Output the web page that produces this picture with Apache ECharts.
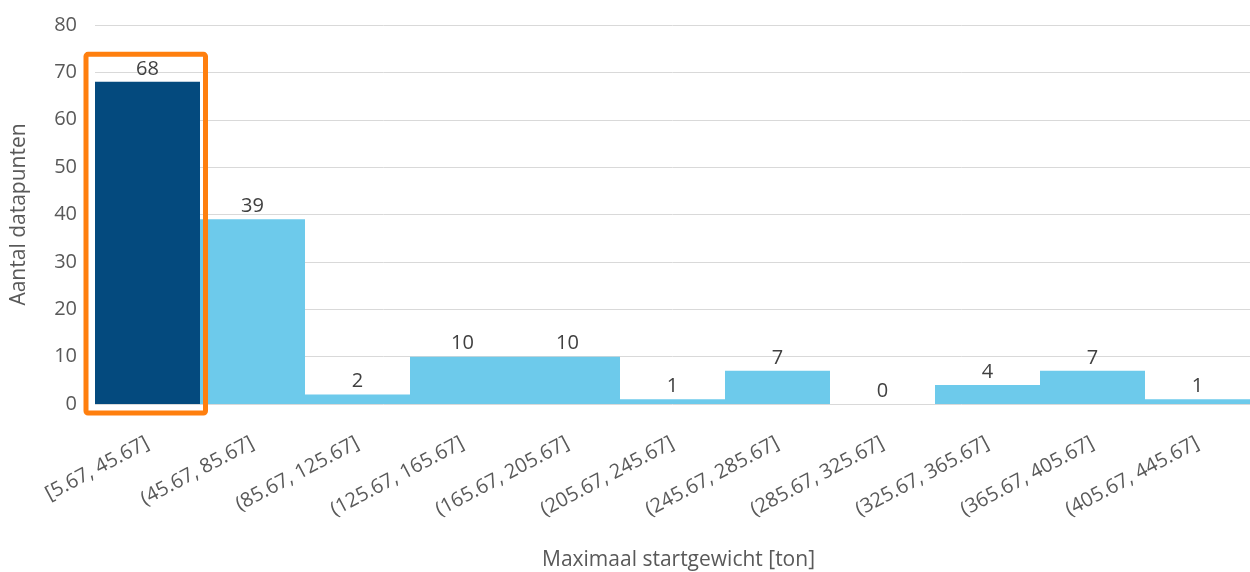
<!DOCTYPE html>
<html><head><meta charset="utf-8">
<script src="https://cdn.jsdelivr.net/npm/echarts@6/dist/echarts.min.js"></script>
<style>html,body{margin:0;padding:0;background:#fff}#c{width:1250px;height:572px}</style>
</head><body><div id="c"></div>
<script>
const categories = ['[5.67, 45.67]','(45.67, 85.67]','(85.67, 125.67]','(125.67, 165.67]','(165.67, 205.67]','(205.67, 245.67]','(245.67, 285.67]','(285.67, 325.67]','(325.67, 365.67]','(365.67, 405.67]','(405.67, 445.67]'];
const counts = [68, 39, 2, 10, 10, 1, 7, 0, 4, 7, 1];
const highlightIndex = 0;
const yTitle = 'Aantal datapunten';
const xTitle = 'Maximaal startgewicht [ton]';

const FONT = '"Open Sans", "Noto Sans", sans-serif';
const chart = echarts.init(document.getElementById('c'));
chart.setOption({
  animation: false,
  grid: {left: 95, right: 0, top: 25, bottom: 168, containLabel: false, outerBoundsMode: 'none'},
  xAxis: {
    type: 'category', data: categories,
    axisLine: {show: false}, axisTick: {show: false},
    axisLabel: {rotate: 28, color: '#595959', fontSize: 20, fontFamily: FONT, margin: 38, interval: 0},
    name: xTitle, nameLocation: 'middle', nameGap: 146,
    nameTextStyle: {color: '#595959', fontSize: 21, fontFamily: FONT, padding: [0, 0, 0, 12]}
  },
  yAxis: {
    type: 'value', min: 0, max: 80, interval: 10,
    axisLine: {show: false}, axisTick: {show: false},
    splitLine: {lineStyle: {color: '#d9d9d9', width: 1}},
    axisLabel: {color: '#595959', fontSize: 20, fontFamily: FONT, margin: 18},
    name: yTitle, nameLocation: 'middle', nameGap: 65,
    nameTextStyle: {color: '#595959', fontSize: 21, fontFamily: FONT}
  },
  series: [{
    type: 'bar', barCategoryGap: '0%',
    data: counts.map((v, i) => ({value: v, itemStyle: {color: i === highlightIndex ? '#044a7e' : '#6dcaeb'}})),
    label: {show: true, position: 'top', color: '#404040', fontSize: 20, fontFamily: FONT, distance: 3}
  }]
});
function drawBox() {
  const center = chart.convertToPixel({xAxisIndex: 0}, highlightIndex);
  const catW = chart.convertToPixel({xAxisIndex: 0}, highlightIndex + 1) - center;
  const yTop = chart.convertToPixel({yAxisIndex: 0}, 73.8);
  const yBase = chart.convertToPixel({yAxisIndex: 0}, 0);
  const x0 = center - catW / 2 - 9, x1 = center + catW / 2 + 5.5;
  chart.setOption({graphic: [{
    type: 'rect', shape: {x: x0, y: yTop, width: x1 - x0, height: yBase + 9 - yTop, r: 2},
    style: {fill: 'none', stroke: '#ff7f0e', lineWidth: 5}, z: 100
  }]});
}
drawBox();
</script></body></html>
